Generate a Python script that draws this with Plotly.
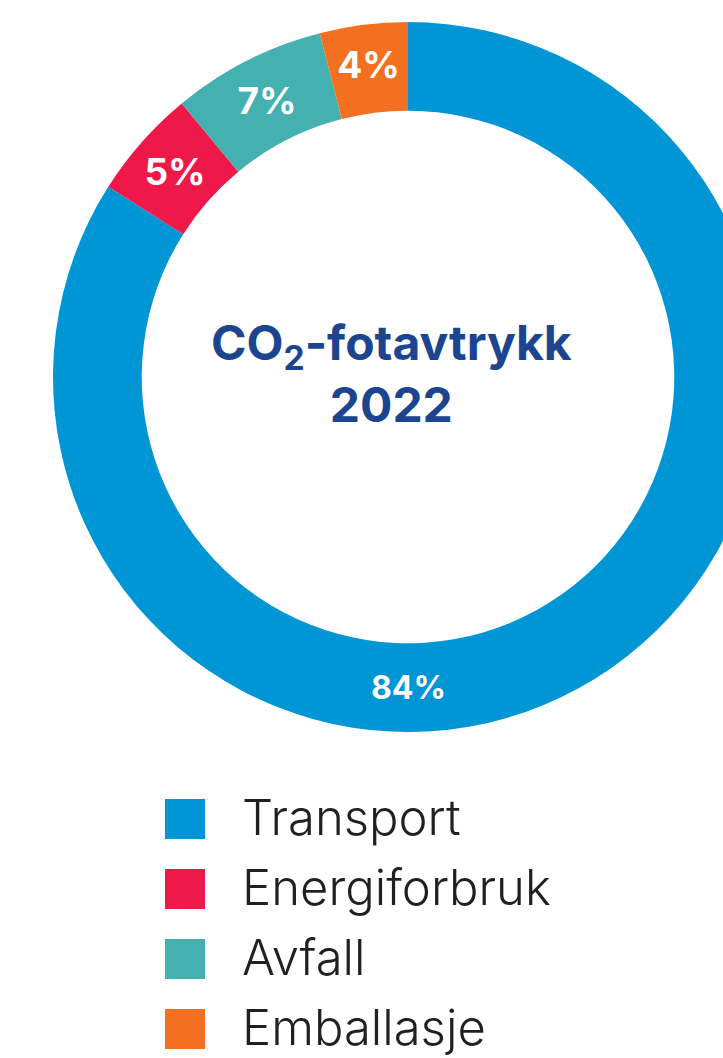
import plotly.graph_objects as go

categories = ["Transport", "Energiforbruk", "Avfall", "Emballasje"]
values = [84, 5, 7, 4]
colors = ["#0096d6", "#ee1948", "#44b0b0", "#f37021"]
labels_txt = ["84%", "5%", "7%", "4%"]
center_title = "CO<sub>2</sub>-fotavtrykk<br>2022"

W, H = 816, 1058
R_PX = 355.0
HOLE = 0.75
CY = 377.0  # donut centre, px from top
FONT = "Inter"

fig = go.Figure()

fig.add_trace(go.Pie(
    labels=categories, values=values, sort=False, direction="clockwise", rotation=0,
    hole=HOLE,
    marker=dict(colors=colors, line=dict(width=0)),
    texttemplate=[""] + labels_txt[1:],
    textposition="inside", insidetextorientation="horizontal",
    textfont=dict(family=FONT, size=37, color="white", weight=700),
    domain=dict(x=[0, 1], y=[1 - (CY + R_PX) / H, 1 - (CY - R_PX) / H]),
    showlegend=False, hoverinfo="skip",
))

# centre title (slightly left of the ring centre, as in the original)
fig.add_annotation(x=0.5, y=1 - CY / H, xref="paper", yref="paper", xshift=-17, yshift=3,
                   text=center_title, showarrow=False, align="center",
                   font=dict(family=FONT, size=48, color="#1c4590", weight=700))

r_mid = R_PX * (1 + HOLE) / 2
fig.add_annotation(x=0.5, y=1 - (CY + r_mid) / H, xref="paper", yref="paper",
                   text=labels_txt[0], showarrow=False,
                   font=dict(family=FONT, size=32, color="white", weight=700))

idx = list(range(len(categories)))
fig.add_trace(go.Scatter(x=[0] * len(idx), y=idx, mode="markers",
                         marker=dict(symbol="square", size=40, color=colors, line=dict(width=0)),
                         showlegend=False, hoverinfo="skip"))
fig.add_trace(go.Scatter(x=[1] * len(idx), y=idx, mode="text", text=categories,
                         textposition="middle right", yaxis="y2",
                         textfont=dict(family=FONT, size=49, color="#231f20", weight=300),
                         showlegend=False, hoverinfo="skip"))

px_per_x = 57.0
x0_px = 185.0
row0_px, row_step = 819.0, 70.0
text_shift = 4.0
fig.update_xaxes(visible=False, range=[-x0_px / px_per_x, (W - x0_px) / px_per_x], domain=[0, 1])
fig.update_layout(
    yaxis=dict(visible=False, domain=[0, 1],
               range=[(H - row0_px) / row_step, -row0_px / row_step]),
    yaxis2=dict(visible=False, overlaying="y",
                range=[(H - row0_px - text_shift) / row_step, -(row0_px + text_shift) / row_step]),
)

fig.update_layout(width=W, height=H, margin=dict(l=0, r=0, t=0, b=0),
                  paper_bgcolor="white", plot_bgcolor="rgba(0,0,0,0)")

fig.write_html("out.html", config={"displayModeBar": False},
               post_script="document.documentElement.style.overflow='hidden';document.body.style.overflow='hidden';document.body.style.margin='0';")
